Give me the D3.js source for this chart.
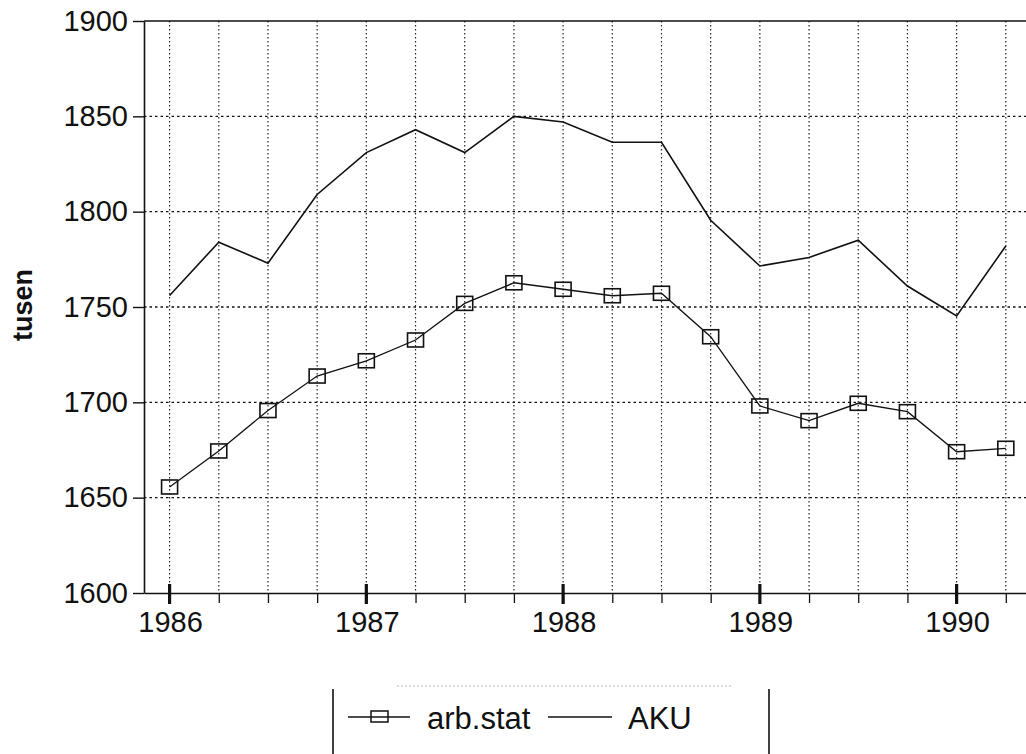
<!DOCTYPE html>
<html>
<head>
<meta charset="utf-8">
<script src="https://cdn.jsdelivr.net/npm/d3@7"></script>
<style>
  html, body { margin: 0; padding: 0; background: #fff; }
  svg { display: block; font-family: "Liberation Sans", Arial, Helvetica, sans-serif; }
</style>
</head>
<body>
<svg id="chart" width="1026" height="754"></svg>
<script>
// ---- data ----
const quarters = [1986.0, 1986.25, 1986.5, 1986.75, 1987.0, 1987.25, 1987.5, 1987.75,
                  1988.0, 1988.25, 1988.5, 1988.75, 1989.0, 1989.25, 1989.5, 1989.75,
                  1990.0, 1990.25];
const arbStat = [1655.6, 1674.5, 1695.7, 1713.8, 1721.8, 1732.7, 1751.9, 1762.7,
                 1759.3, 1755.9, 1757.2, 1734.4, 1698.1, 1690.4, 1699.5, 1695.1,
                 1674.1, 1675.9];
const aku = [1756, 1784, 1773, 1809, 1831, 1843, 1831, 1850,
             1847, 1836.4, 1836.4, 1795.5, 1771.5, 1776, 1785, 1761,
             1745.3, 1782];
const yearTicks = [1986, 1987, 1988, 1989, 1990];
const yTicks = [1600, 1650, 1700, 1750, 1800, 1850, 1900];
const seriesNames = ["arb.stat", "AKU"];
const yLabel = "tusen";

(function () {
// ---- layout ----
const svg = d3.select("#chart");
const pL = 144, pT = 21, pB = 593, pR = 1055;
const x = d3.scaleLinear().domain([1985.87, 1990.5]).range([pL, pR]);
const y = d3.scaleLinear().domain([1600, 1900]).range([pB, pT]);

// gridlines
const grid = svg.append("g");
grid.selectAll("line.h").data(yTicks.filter(v => v > 1600 && v < 1900)).join("line")
  .attr("class", "h")
  .attr("x1", pL).attr("x2", pR)
  .attr("y1", d => y(d)).attr("y2", d => y(d))
  .attr("stroke", "#111").attr("stroke-width", 1.4).attr("stroke-dasharray", "2.5,3");
grid.selectAll("line.v").data(quarters).join("line")
  .attr("class", "v")
  .attr("x1", d => x(d)).attr("x2", d => x(d))
  .attr("y1", pT).attr("y2", pB)
  .attr("stroke", "#222").attr("stroke-width", 1.2).attr("stroke-dasharray", "1.5,2.5");

// top border
svg.append("line").attr("x1", pL).attr("x2", pR).attr("y1", pT).attr("y2", pT)
  .attr("stroke", "#111").attr("stroke-width", 1.6);

// y axis
const yAxis = svg.append("g").attr("transform", `translate(${pL},0)`)
  .call(d3.axisLeft(y).tickValues(yTicks).tickFormat(d3.format("d"))
    .tickSize(11).tickSizeOuter(0).tickPadding(5));
yAxis.select(".domain").attr("stroke", "#111").attr("stroke-width", 1.6);
yAxis.selectAll(".tick line").attr("stroke", "#111").attr("stroke-width", 1.4);
yAxis.selectAll(".tick text").attr("font-size", 29).attr("fill", "#111")
  .attr("font-family", "'Liberation Sans', Arial, sans-serif");

// x axis (quarter ticks)
const xAxis = svg.append("g").attr("transform", `translate(0,${pB})`)
  .call(d3.axisBottom(x).tickValues(quarters).tickSize(10).tickSizeOuter(0).tickFormat(""));
xAxis.select(".domain").attr("stroke", "#111").attr("stroke-width", 1.6);
xAxis.selectAll(".tick line").attr("stroke", "#111").attr("stroke-width", 1.3);

// year ticks (thick, crossing the axis)
svg.append("g").selectAll("line").data(yearTicks).join("line")
  .attr("x1", d => x(d)).attr("x2", d => x(d))
  .attr("y1", pB - 9).attr("y2", pB + 11)
  .attr("stroke", "#111").attr("stroke-width", 3.2);

// year labels
svg.append("g").selectAll("text").data(yearTicks).join("text")
  .attr("x", d => x(d) + 1).attr("y", 632)
  .attr("text-anchor", "middle").attr("font-size", 29).attr("fill", "#111")
  .text(d => d);

// y label
svg.append("text").attr("transform", "translate(32,305) rotate(-90)")
  .attr("text-anchor", "middle").attr("font-size", 27).attr("font-weight", "bold")
  .attr("fill", "#111").text(yLabel);

// lines
const line = d3.line().x((d, i) => x(quarters[i])).y(d => y(d));
svg.append("path").datum(aku).attr("d", line)
  .attr("fill", "none").attr("stroke", "#111").attr("stroke-width", 1.6);
svg.append("path").datum(arbStat).attr("d", line)
  .attr("fill", "none").attr("stroke", "#111").attr("stroke-width", 1.3);

// markers
const mw = 16, mh = 14;
svg.append("g").selectAll("rect").data(arbStat).join("rect")
  .attr("x", (d, i) => x(quarters[i]) - mw / 2).attr("y", d => y(d) - mh / 2)
  .attr("width", mw).attr("height", mh)
  .attr("fill", "none").attr("stroke", "#111").attr("stroke-width", 1.6);

// legend
const lg = svg.append("g");
lg.append("line").attr("x1", 333).attr("x2", 333).attr("y1", 689).attr("y2", 754)
  .attr("stroke", "#111").attr("stroke-width", 1.6);
lg.append("line").attr("x1", 769).attr("x2", 769).attr("y1", 689).attr("y2", 754)
  .attr("stroke", "#111").attr("stroke-width", 1.6);
lg.append("line").attr("x1", 397).attr("x2", 733).attr("y1", 686).attr("y2", 686)
  .attr("stroke", "#bbb").attr("stroke-width", 1).attr("stroke-dasharray", "2,2");
lg.append("line").attr("x1", 348).attr("x2", 410).attr("y1", 717).attr("y2", 717)
  .attr("stroke", "#111").attr("stroke-width", 1.4);
lg.append("rect").attr("x", 371).attr("y", 711).attr("width", 17).attr("height", 11)
  .attr("fill", "none").attr("stroke", "#111").attr("stroke-width", 1.5);
lg.append("text").attr("x", 427).attr("y", 729).attr("font-size", 31).attr("fill", "#111")
  .text(seriesNames[0]);
lg.append("line").attr("x1", 548).attr("x2", 612).attr("y1", 717).attr("y2", 717)
  .attr("stroke", "#111").attr("stroke-width", 1.4);
lg.append("text").attr("x", 628).attr("y", 729).attr("font-size", 31).attr("fill", "#111")
  .text(seriesNames[1]);
})();
</script>
</body>
</html>
